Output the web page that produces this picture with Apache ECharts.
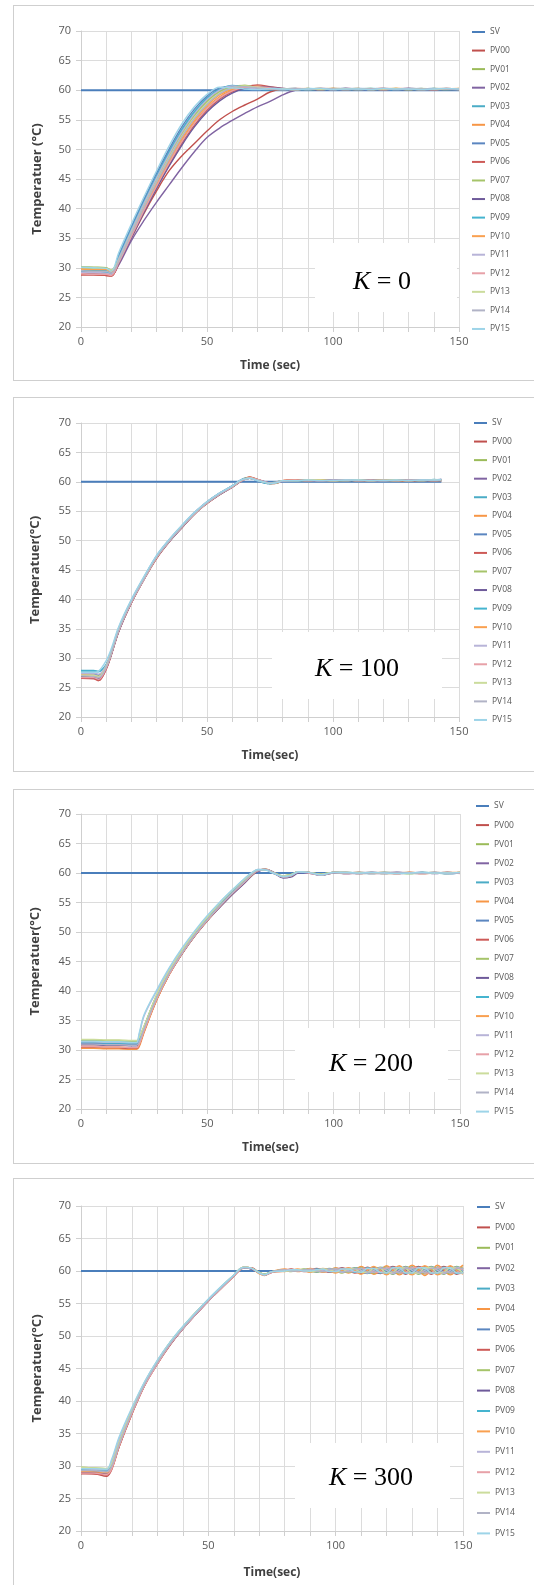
<!DOCTYPE html>
<html>
<head>
<meta charset="utf-8">
<script src="https://cdn.jsdelivr.net/npm/echarts@6/dist/echarts.min.js"></script>
<style>
  html, body { margin: 0; padding: 0; background: #fff; }
  body { position: relative; width: 534px; height: 1585px; overflow: hidden; }
  .panel { position: absolute; left: 13px; width: 540px; border: 1px solid #cfcfcf; box-sizing: border-box; }
  .chart { position: absolute; left: 0; top: 0; width: 528px; height: 100%; }
</style>
</head>
<body>
<div class="panel" style="top:5px;height:376px"><div id="k0" class="chart"></div></div>
<div class="panel" style="top:397px;height:375px"><div id="k100" class="chart"></div></div>
<div class="panel" style="top:789px;height:375px"><div id="k200" class="chart"></div></div>
<div class="panel" style="top:1178px;height:410px"><div id="k300" class="chart"></div></div>
<script>
// legend / series names and Excel-like colours
const pvNames = ['PV00', 'PV01', 'PV02', 'PV03', 'PV04', 'PV05', 'PV06', 'PV07',
  'PV08', 'PV09', 'PV10', 'PV11', 'PV12', 'PV13', 'PV14', 'PV15']
const pvColors = ['#c0504d', '#9bbb59', '#8064a2', '#4bacc6', '#f79646', '#5b86c0', '#cd5a57', '#a6c46a',
  '#6e5a9a', '#45b4cf', '#f9a050', '#b8b4d8', '#e7a1a8', '#cbdc9c', '#b1b3c6', '#9dd4e8']
const svColor = '#4a7ebb'
const svTemp = [60, 60]

// ---- K = 0 ----
const timeK0 = [0, 5, 10, 12, 15, 20, 25, 30, 35, 40, 45, 50, 55, 60, 65, 70, 75, 80, 85,
  90, 95, 100, 105, 110, 115, 120, 125, 130, 135, 140, 145, 150]
const svTimeK0 = [0, 150]
const pvK0 = [
  [28.8, 28.8, 28.7, 28.6, 30.7, 35.0, 39.2, 43.0, 46.4, 48.9, 51.0, 53.1, 55.0, 56.4, 57.5, 58.5, 59.7, 60.2, 60.3, 60.2, 60.1, 60.3, 60.2, 60.1, 60.2, 60.3, 60.2, 60.1, 60.2, 60.2, 60.1, 60.2],
  [30.2, 30.1, 30.0, 29.6, 31.5, 36.2, 40.8, 45.0, 49.0, 52.7, 55.8, 58.2, 59.8, 60.6, 60.8, 60.4, 60.2, 60.2, 60.1, 60.2, 60.3, 60.1, 60.2, 60.2, 60.3, 60.1, 60.2, 60.2, 60.1, 60.3, 60.2, 60.2],
  [29.0, 29.0, 28.9, 28.7, 30.5, 34.6, 38.0, 41.1, 44.0, 46.9, 49.6, 52.0, 53.6, 54.9, 56.1, 57.2, 58.1, 59.2, 60.0, 60.2, 60.2, 60.1, 60.3, 60.2, 60.1, 60.2, 60.2, 60.3, 60.1, 60.2, 60.2, 60.1],
  [29.6, 29.5, 29.5, 29.1, 31.9, 36.7, 41.3, 45.6, 49.7, 53.4, 56.4, 58.7, 60.2, 60.7, 60.4, 60.2, 60.1, 60.2, 60.3, 60.1, 60.2, 60.2, 60.3, 60.1, 60.2, 60.2, 60.1, 60.3, 60.2, 60.1, 60.2, 60.2],
  [28.9, 28.9, 28.8, 28.7, 30.9, 35.4, 39.9, 44.0, 47.9, 51.5, 54.6, 57.1, 58.9, 60.0, 60.6, 60.7, 60.4, 60.2, 60.2, 60.3, 60.1, 60.2, 60.2, 60.3, 60.1, 60.2, 60.3, 60.2, 60.1, 60.2, 60.3, 60.1],
  [29.4, 29.3, 29.3, 29.0, 32.2, 37.0, 41.6, 46.0, 50.1, 53.8, 56.8, 59.0, 60.4, 60.6, 60.3, 60.1, 60.2, 60.2, 60.1, 60.2, 60.2, 60.1, 60.2, 60.3, 60.2, 60.1, 60.2, 60.2, 60.3, 60.1, 60.2, 60.2],
  [28.8, 28.8, 28.7, 28.6, 30.8, 35.2, 39.6, 43.6, 47.4, 51.0, 54.1, 56.6, 58.5, 59.7, 60.5, 60.9, 60.6, 60.3, 60.2, 60.2, 60.3, 60.2, 60.1, 60.2, 60.2, 60.3, 60.1, 60.2, 60.2, 60.1, 60.3, 60.2],
  [30.0, 29.9, 29.9, 29.5, 31.4, 36.0, 40.6, 44.8, 48.8, 52.5, 55.6, 58.0, 59.7, 60.5, 60.8, 60.4, 60.2, 60.1, 60.2, 60.1, 60.2, 60.3, 60.2, 60.1, 60.2, 60.2, 60.3, 60.1, 60.2, 60.2, 60.1, 60.3],
  [29.3, 29.2, 29.2, 28.9, 30.8, 35.1, 39.4, 43.4, 47.2, 50.7, 53.8, 56.3, 58.2, 59.5, 60.3, 60.6, 60.5, 60.3, 60.2, 60.2, 60.1, 60.2, 60.3, 60.2, 60.2, 60.1, 60.2, 60.3, 60.2, 60.1, 60.2, 60.2],
  [29.3, 29.3, 29.2, 29.0, 31.8, 36.5, 41.1, 45.4, 49.4, 53.1, 56.2, 58.6, 60.1, 60.8, 60.5, 60.2, 60.1, 60.2, 60.1, 60.3, 60.2, 60.2, 60.1, 60.2, 60.3, 60.2, 60.1, 60.2, 60.2, 60.3, 60.1, 60.2],
  [29.8, 29.7, 29.7, 29.3, 31.1, 35.6, 40.1, 44.3, 48.2, 51.8, 54.9, 57.4, 59.2, 60.2, 60.6, 60.5, 60.3, 60.2, 60.1, 60.2, 60.2, 60.3, 60.1, 60.2, 60.2, 60.1, 60.3, 60.2, 60.2, 60.1, 60.2, 60.3],
  [29.2, 29.2, 29.1, 28.9, 31.6, 36.3, 40.9, 45.2, 49.2, 52.9, 56.0, 58.4, 60.0, 60.7, 60.5, 60.2, 60.2, 60.1, 60.2, 60.1, 60.3, 60.2, 60.2, 60.1, 60.2, 60.3, 60.2, 60.2, 60.1, 60.2, 60.3, 60.2],
  [29.0, 28.9, 28.9, 28.7, 30.9, 35.3, 39.7, 43.8, 47.7, 51.3, 54.4, 56.9, 58.7, 59.9, 60.5, 60.6, 60.4, 60.2, 60.1, 60.2, 60.2, 60.1, 60.3, 60.2, 60.2, 60.1, 60.2, 60.3, 60.2, 60.1, 60.2, 60.2],
  [30.1, 30.0, 29.9, 29.6, 31.3, 35.9, 40.4, 44.6, 48.6, 52.3, 55.4, 57.8, 59.5, 60.4, 60.7, 60.5, 60.2, 60.2, 60.1, 60.3, 60.1, 60.2, 60.2, 60.3, 60.1, 60.2, 60.2, 60.1, 60.3, 60.2, 60.2, 60.1],
  [29.5, 29.4, 29.4, 29.1, 31.2, 35.8, 40.3, 44.5, 48.4, 52.1, 55.2, 57.6, 59.4, 60.4, 60.6, 60.4, 60.2, 60.1, 60.2, 60.2, 60.3, 60.2, 60.1, 60.2, 60.2, 60.3, 60.1, 60.2, 60.2, 60.3, 60.2, 60.1],
  [30.1, 30.0, 29.9, 29.4, 32.6, 37.4, 42.0, 46.4, 50.6, 54.3, 57.2, 59.3, 60.5, 60.4, 60.2, 60.1, 60.3, 60.2, 60.1, 60.2, 60.3, 60.1, 60.2, 60.2, 60.1, 60.3, 60.2, 60.2, 60.1, 60.2, 60.3, 60.2]
]

// ---- K = 100 ----
const timeK100 = [0, 5, 7, 10, 12, 15, 20, 25, 30, 35, 40, 45, 50, 55, 60, 63, 65, 67, 70, 73, 75, 78, 80, 85,
  90, 95, 100, 105, 110, 115, 120, 125, 130, 135, 140, 143]
const svTimeK100 = [0, 143]
const pvK100 = [
  [26.6, 26.6, 26.2, 28.2, 30.6, 34.6, 39.4, 43.4, 47.0, 49.8, 52.2, 54.5, 56.3, 57.8, 59.1, 60.0, 60.5, 60.8, 60.3, 59.9, 59.7, 59.9, 60.2, 60.3, 60.2, 60.3, 60.2, 60.2, 60.3, 60.1, 60.2, 60.3, 60.1, 60.2, 60.3, 60.2],
  [26.8, 26.8, 26.5, 28.4, 30.8, 34.8, 39.6, 43.6, 47.2, 50.0, 52.4, 54.7, 56.5, 58.0, 59.2, 60.1, 60.5, 60.7, 60.3, 59.9, 59.8, 60.0, 60.2, 60.2, 60.3, 60.2, 60.3, 60.2, 60.2, 60.3, 60.2, 60.2, 60.3, 60.2, 60.3, 60.3],
  [26.7, 26.7, 26.4, 28.3, 30.7, 34.7, 39.5, 43.5, 47.1, 49.9, 52.3, 54.6, 56.4, 57.9, 59.1, 60.0, 60.4, 60.6, 60.4, 60.0, 59.7, 59.8, 60.1, 60.3, 60.2, 60.2, 60.3, 60.2, 60.3, 60.2, 60.3, 60.2, 60.2, 60.3, 60.2, 60.4],
  [27.9, 27.9, 27.8, 28.9, 31.0, 35.0, 39.8, 43.7, 47.3, 50.0, 52.4, 54.6, 56.5, 58.0, 59.3, 60.1, 60.5, 60.6, 60.2, 59.9, 59.8, 60.0, 60.2, 60.2, 60.2, 60.3, 60.2, 60.3, 60.2, 60.2, 60.3, 60.2, 60.3, 60.2, 60.3, 60.2],
  [27.1, 27.0, 26.8, 28.5, 30.8, 34.9, 39.6, 43.5, 47.2, 49.9, 52.3, 54.7, 56.5, 58.0, 59.2, 60.1, 60.6, 60.8, 60.4, 59.9, 59.7, 59.8, 60.2, 60.3, 60.3, 60.2, 60.2, 60.3, 60.2, 60.3, 60.2, 60.2, 60.3, 60.2, 60.2, 60.3],
  [27.3, 27.3, 27.1, 28.6, 31.0, 35.0, 39.7, 43.6, 47.3, 50.1, 52.5, 54.7, 56.6, 58.1, 59.3, 60.2, 60.5, 60.6, 60.2, 59.8, 59.7, 59.9, 60.1, 60.2, 60.2, 60.2, 60.3, 60.2, 60.3, 60.2, 60.2, 60.3, 60.2, 60.3, 60.2, 60.3],
  [26.6, 26.5, 26.2, 28.1, 30.5, 34.6, 39.4, 43.4, 47.0, 49.8, 52.2, 54.5, 56.3, 57.8, 59.1, 60.0, 60.5, 60.8, 60.4, 60.0, 59.8, 59.9, 60.2, 60.3, 60.3, 60.2, 60.2, 60.3, 60.2, 60.2, 60.3, 60.2, 60.1, 60.3, 60.2, 60.2],
  [27.0, 27.0, 26.8, 28.5, 30.9, 34.9, 39.7, 43.6, 47.2, 50.0, 52.4, 54.6, 56.5, 57.9, 59.2, 60.1, 60.5, 60.6, 60.3, 59.9, 59.7, 59.9, 60.2, 60.2, 60.2, 60.3, 60.2, 60.2, 60.3, 60.2, 60.3, 60.2, 60.2, 60.3, 60.3, 60.2],
  [26.8, 26.7, 26.5, 28.3, 30.6, 34.6, 39.5, 43.4, 47.1, 49.8, 52.2, 54.5, 56.4, 57.8, 59.1, 60.0, 60.4, 60.6, 60.3, 60.0, 59.8, 59.9, 60.1, 60.3, 60.2, 60.2, 60.3, 60.2, 60.2, 60.3, 60.2, 60.3, 60.2, 60.2, 60.3, 60.4],
  [27.8, 27.8, 27.7, 28.9, 31.1, 35.1, 39.8, 43.7, 47.4, 50.1, 52.5, 54.7, 56.6, 58.1, 59.3, 60.2, 60.6, 60.6, 60.2, 59.8, 59.7, 59.9, 60.2, 60.2, 60.3, 60.2, 60.2, 60.3, 60.2, 60.3, 60.2, 60.2, 60.3, 60.2, 60.4, 60.3],
  [27.2, 27.1, 26.9, 28.6, 30.9, 34.9, 39.6, 43.5, 47.2, 49.9, 52.3, 54.6, 56.4, 57.9, 59.2, 60.1, 60.5, 60.7, 60.3, 59.9, 59.8, 59.9, 60.2, 60.3, 60.2, 60.3, 60.2, 60.3, 60.2, 60.2, 60.3, 60.2, 60.2, 60.3, 60.2, 60.3],
  [27.4, 27.4, 27.3, 28.8, 31.2, 35.2, 39.9, 43.8, 47.4, 50.2, 52.5, 54.8, 56.6, 58.1, 59.3, 60.2, 60.5, 60.6, 60.2, 59.9, 59.8, 60.0, 60.2, 60.2, 60.3, 60.2, 60.3, 60.2, 60.3, 60.2, 60.2, 60.3, 60.2, 60.3, 60.3, 60.4],
  [26.7, 26.7, 26.4, 28.3, 30.7, 34.7, 39.5, 43.4, 47.1, 49.9, 52.3, 54.5, 56.4, 57.9, 59.1, 60.0, 60.4, 60.7, 60.4, 60.0, 59.8, 59.9, 60.2, 60.3, 60.2, 60.2, 60.2, 60.3, 60.2, 60.3, 60.2, 60.2, 60.3, 60.2, 60.3, 60.2],
  [27.1, 27.1, 26.9, 28.6, 30.9, 34.9, 39.7, 43.6, 47.2, 50.0, 52.4, 54.6, 56.5, 58.0, 59.2, 60.1, 60.5, 60.6, 60.3, 59.9, 59.8, 59.9, 60.2, 60.2, 60.3, 60.3, 60.2, 60.2, 60.3, 60.2, 60.3, 60.3, 60.2, 60.2, 60.3, 60.3],
  [27.0, 26.9, 26.7, 28.5, 30.8, 34.8, 39.6, 43.5, 47.2, 49.9, 52.3, 54.6, 56.4, 57.9, 59.2, 60.1, 60.5, 60.6, 60.3, 60.0, 59.8, 59.9, 60.1, 60.2, 60.2, 60.2, 60.3, 60.3, 60.2, 60.2, 60.3, 60.2, 60.3, 60.3, 60.2, 60.3],
  [27.6, 27.6, 27.8, 29.6, 31.6, 35.4, 40.0, 43.9, 47.5, 50.2, 52.6, 54.8, 56.6, 58.1, 59.3, 60.2, 60.5, 60.6, 60.2, 59.9, 59.7, 59.9, 60.2, 60.2, 60.3, 60.2, 60.2, 60.3, 60.3, 60.2, 60.2, 60.3, 60.2, 60.3, 60.3, 60.4]
]

// ---- K = 200 ----
const timeK200 = [0, 5, 10, 15, 20, 22, 23, 25, 30, 35, 40, 45, 50, 55, 60, 65, 68, 70, 73, 76, 80, 83, 86, 90, 95, 100,
  105, 110, 115, 120, 125, 130, 135, 140, 145, 150]
const svTimeK200 = [0, 150]
const pvK200 = [
  [30.4, 30.4, 30.3, 30.3, 30.2, 30.2, 30.8, 33.2, 38.6, 42.9, 46.4, 49.4, 52.0, 54.4, 56.6, 58.6, 59.8, 60.4, 60.6, 60.0, 59.3, 59.5, 60.2, 60.1, 59.7, 60.1, 60.0, 60.1, 59.9, 60.0, 60.1, 60.0, 59.9, 60.0, 60.1, 60.0],
  [31.6, 31.6, 31.5, 31.5, 31.4, 31.4, 32.0, 34.0, 39.3, 43.4, 46.8, 49.8, 52.4, 54.8, 57.0, 59.0, 60.1, 60.5, 60.5, 60.1, 59.5, 59.7, 60.2, 60.1, 59.8, 60.1, 60.1, 60.0, 60.1, 59.9, 60.0, 60.1, 60.0, 60.0, 59.9, 60.1],
  [31.0, 31.0, 30.9, 30.9, 30.8, 30.8, 31.3, 33.5, 38.8, 43.0, 46.4, 49.4, 52.0, 54.3, 56.5, 58.5, 59.7, 60.3, 60.6, 60.1, 59.2, 59.4, 60.1, 60.0, 59.6, 60.0, 59.9, 60.1, 60.0, 60.1, 59.9, 60.0, 60.1, 60.0, 60.0, 60.1],
  [31.2, 31.2, 31.1, 31.1, 31.0, 31.0, 31.5, 33.8, 39.1, 43.3, 46.7, 49.7, 52.3, 54.7, 56.9, 58.9, 60.0, 60.5, 60.6, 60.1, 59.4, 59.6, 60.2, 60.1, 59.7, 60.1, 60.0, 60.0, 60.1, 60.0, 60.0, 59.9, 60.1, 60.0, 60.1, 60.0],
  [30.3, 30.3, 30.2, 30.2, 30.1, 30.1, 30.5, 33.0, 38.5, 42.8, 46.3, 49.3, 51.9, 54.3, 56.5, 58.5, 59.8, 60.4, 60.7, 60.1, 59.4, 59.5, 60.2, 60.1, 59.7, 60.0, 60.1, 59.9, 60.0, 60.1, 60.0, 60.1, 59.9, 60.0, 60.0, 60.1],
  [31.1, 31.1, 31.0, 31.0, 30.9, 30.9, 31.4, 33.7, 39.0, 43.2, 46.6, 49.6, 52.2, 54.6, 56.8, 58.8, 60.0, 60.5, 60.6, 60.0, 59.4, 59.6, 60.2, 60.1, 59.7, 60.1, 60.0, 60.1, 60.0, 59.9, 60.1, 60.0, 60.0, 60.1, 59.9, 60.0],
  [30.5, 30.5, 30.4, 30.4, 30.3, 30.3, 30.8, 33.2, 38.6, 42.9, 46.4, 49.4, 52.0, 54.4, 56.6, 58.6, 59.8, 60.4, 60.6, 60.1, 59.3, 59.5, 60.1, 60.1, 59.7, 60.1, 59.9, 60.0, 60.1, 60.0, 59.9, 60.1, 60.0, 60.1, 60.0, 60.0],
  [31.7, 31.7, 31.6, 31.6, 31.5, 31.5, 32.0, 34.0, 39.3, 43.4, 46.8, 49.8, 52.4, 54.8, 57.0, 59.0, 60.1, 60.5, 60.6, 60.0, 59.5, 59.7, 60.2, 60.1, 59.8, 60.1, 60.1, 60.0, 60.0, 60.1, 60.0, 59.9, 60.0, 60.1, 60.0, 60.1],
  [30.9, 30.9, 30.8, 30.8, 30.7, 30.7, 31.2, 33.4, 38.7, 42.9, 46.3, 49.3, 51.9, 54.2, 56.4, 58.4, 59.7, 60.3, 60.6, 60.2, 59.2, 59.3, 60.0, 60.1, 59.6, 60.0, 60.0, 59.9, 60.1, 60.0, 60.1, 60.0, 60.1, 59.9, 60.1, 60.0],
  [31.3, 31.3, 31.2, 31.2, 31.1, 31.1, 31.6, 33.9, 39.2, 43.3, 46.7, 49.7, 52.3, 54.7, 56.9, 58.9, 60.0, 60.5, 60.6, 60.0, 59.4, 59.6, 60.2, 60.1, 59.7, 60.1, 60.1, 60.0, 59.9, 60.1, 60.0, 60.0, 60.1, 60.0, 59.9, 60.0],
  [30.6, 30.6, 30.5, 30.5, 30.4, 30.4, 30.9, 33.2, 38.6, 42.9, 46.4, 49.4, 52.0, 54.4, 56.6, 58.6, 59.8, 60.4, 60.6, 60.1, 59.4, 59.5, 60.2, 60.1, 59.7, 60.1, 60.0, 60.1, 60.0, 60.0, 59.9, 60.1, 60.0, 60.0, 60.1, 60.1],
  [31.4, 31.4, 31.3, 31.3, 31.2, 31.2, 32.5, 35.8, 40.0, 43.8, 47.1, 50.0, 52.6, 55.0, 57.1, 59.1, 60.1, 60.6, 60.6, 60.0, 59.4, 59.6, 60.2, 60.1, 59.7, 60.1, 59.9, 60.0, 60.1, 60.0, 60.1, 60.0, 59.9, 60.1, 60.0, 60.0],
  [30.6, 30.6, 30.5, 30.5, 30.4, 30.4, 30.9, 33.3, 38.7, 42.9, 46.4, 49.4, 52.0, 54.4, 56.6, 58.6, 59.9, 60.4, 60.6, 60.1, 59.3, 59.5, 60.2, 60.0, 59.7, 60.1, 60.1, 60.0, 60.0, 59.9, 60.0, 60.1, 60.0, 60.0, 60.1, 59.9],
  [31.8, 31.8, 31.7, 31.7, 31.6, 31.6, 32.1, 34.1, 39.4, 43.5, 46.9, 49.9, 52.5, 54.9, 57.1, 59.0, 60.1, 60.5, 60.5, 60.1, 59.5, 59.7, 60.2, 60.1, 59.8, 60.1, 60.0, 60.1, 60.0, 60.1, 60.0, 59.9, 60.1, 60.0, 60.0, 60.1],
  [31.0, 31.0, 30.9, 30.9, 30.8, 30.8, 31.3, 33.6, 38.9, 43.1, 46.5, 49.5, 52.1, 54.5, 56.7, 58.7, 59.9, 60.4, 60.6, 60.1, 59.3, 59.5, 60.1, 60.1, 59.6, 60.0, 60.0, 59.9, 60.0, 60.1, 60.1, 60.0, 60.0, 60.1, 59.9, 60.0],
  [31.5, 31.5, 31.4, 31.4, 31.3, 31.3, 32.8, 36.0, 40.2, 44.0, 47.3, 50.2, 52.8, 55.1, 57.2, 59.2, 60.2, 60.6, 60.5, 60.0, 59.4, 59.6, 60.2, 60.1, 59.7, 60.1, 60.1, 60.0, 60.1, 60.0, 59.9, 60.0, 60.1, 60.0, 60.0, 60.1]
]

// ---- K = 300 ----
const timeK300 = [0, 5, 10, 12, 15, 20, 25, 30, 35, 40, 45, 50, 55, 60, 62, 64, 67, 70, 72, 75,
  80, 82.5, 85, 87.5, 90, 92.5, 95, 97.5, 100, 102.5, 105, 107.5, 110, 112.5, 115, 117.5,
  120, 122.5, 125, 127.5, 130, 132.5, 135, 137.5, 140, 142.5, 145, 147.5, 150]
const svTimeK300 = [0, 150]
const pvK300 = [
  [28.8, 28.8, 28.4, 29.4, 33.0, 38.0, 42.4, 45.7, 48.6, 51.1, 53.3, 55.4, 57.3, 59.2, 60.0, 60.5, 60.4, 59.7, 59.4, 59.9,
    60.1, 60.3, 60.1, 59.9, 60.1, 60.4, 60.1, 59.8, 60.1, 60.5, 60.1, 59.7, 60.1, 60.6, 60.1, 59.6, 60.1, 60.7, 60.1, 59.5, 60.1, 60.7, 60.1, 59.5, 60.1, 60.7, 60.1, 59.5, 60.1],
  [29.7, 29.6, 29.5, 30.2, 33.6, 38.6, 42.8, 46.1, 49.0, 51.4, 53.6, 55.6, 57.5, 59.4, 60.2, 60.6, 60.4, 59.8, 59.5, 59.9,
    60.1, 59.9, 60.1, 60.3, 60.1, 59.8, 60.1, 60.4, 60.1, 59.7, 60.1, 60.5, 60.1, 59.6, 60.1, 60.6, 60.1, 59.5, 60.1, 60.7, 60.1, 59.5, 60.1, 60.7, 60.1, 59.5, 60.1, 60.7, 60.1],
  [29.2, 29.1, 29.0, 29.8, 33.2, 38.2, 42.5, 45.8, 48.7, 51.2, 53.4, 55.5, 57.4, 59.3, 60.1, 60.5, 60.3, 59.7, 59.4, 59.8,
    60.2, 60.2, 60.0, 60.0, 60.3, 60.3, 59.9, 59.9, 60.4, 60.4, 59.8, 59.8, 60.5, 60.5, 59.7, 59.7, 60.5, 60.6, 59.7, 59.6, 60.6, 60.5, 59.6, 59.7, 60.6, 60.5, 59.6, 59.7, 60.5],
  [29.4, 29.3, 29.2, 30.0, 33.4, 38.4, 42.7, 46.0, 48.9, 51.3, 53.5, 55.6, 57.5, 59.3, 60.1, 60.5, 60.4, 59.7, 59.4, 59.9,
    60.2, 60.0, 60.0, 60.2, 60.3, 59.9, 59.9, 60.3, 60.4, 59.8, 59.8, 60.4, 60.5, 59.7, 59.7, 60.5, 60.6, 59.6, 59.7, 60.5, 60.6, 59.6, 59.6, 60.6, 60.5, 59.7, 59.6, 60.6, 60.5],
  [29.0, 29.0, 28.8, 29.6, 33.1, 38.1, 42.5, 45.8, 48.7, 51.2, 53.4, 55.5, 57.4, 59.3, 60.1, 60.6, 60.4, 59.6, 59.3, 59.9,
    60.3, 60.1, 59.9, 60.1, 60.4, 60.1, 59.8, 60.1, 60.5, 60.1, 59.7, 60.1, 60.7, 60.1, 59.5, 60.1, 60.8, 60.1, 59.4, 60.1, 60.9, 60.2, 59.3, 60.0, 60.9, 60.1, 59.4, 60.1, 60.9],
  [29.3, 29.2, 29.1, 29.9, 33.3, 38.3, 42.6, 45.9, 48.8, 51.2, 53.4, 55.5, 57.4, 59.3, 60.1, 60.5, 60.4, 59.7, 59.4, 59.9,
    60.0, 60.0, 60.2, 60.2, 59.9, 59.9, 60.3, 60.3, 59.8, 59.8, 60.4, 60.4, 59.7, 59.7, 60.5, 60.5, 59.7, 59.6, 60.5, 60.6, 59.6, 59.7, 60.6, 60.5, 59.6, 59.6, 60.6, 60.5, 59.7],
  [28.9, 28.8, 28.6, 29.5, 33.0, 38.0, 42.4, 45.7, 48.7, 51.1, 53.3, 55.4, 57.3, 59.2, 60.0, 60.5, 60.5, 59.7, 59.4, 59.8,
    60.0, 60.2, 60.2, 60.0, 59.9, 60.3, 60.3, 59.9, 59.8, 60.4, 60.4, 59.8, 59.7, 60.5, 60.5, 59.7, 59.6, 60.6, 60.5, 59.7, 59.6, 60.6, 60.6, 59.6, 59.7, 60.5, 60.6, 59.6, 59.7],
  [29.8, 29.7, 29.6, 30.3, 33.6, 38.5, 42.8, 46.1, 49.0, 51.4, 53.5, 55.6, 57.5, 59.4, 60.2, 60.6, 60.4, 59.8, 59.5, 59.9,
    60.2, 60.1, 60.0, 60.1, 60.3, 60.1, 59.9, 60.1, 60.4, 60.1, 59.8, 60.1, 60.5, 60.1, 59.7, 60.1, 60.6, 60.1, 59.6, 60.1, 60.6, 60.1, 59.6, 60.1, 60.6, 60.1, 59.6, 60.1, 60.6],
  [29.1, 29.0, 28.9, 29.7, 33.2, 38.2, 42.5, 45.8, 48.7, 51.1, 53.3, 55.4, 57.4, 59.3, 60.1, 60.5, 60.3, 59.7, 59.4, 59.9,
    60.0, 60.1, 60.2, 60.1, 59.9, 60.1, 60.3, 60.1, 59.8, 60.1, 60.4, 60.1, 59.7, 60.1, 60.5, 60.1, 59.6, 60.1, 60.6, 60.1, 59.6, 60.1, 60.6, 60.1, 59.6, 60.1, 60.6, 60.1, 59.6],
  [29.5, 29.4, 29.3, 30.1, 33.4, 38.4, 42.7, 46.0, 48.9, 51.3, 53.5, 55.6, 57.5, 59.4, 60.1, 60.5, 60.4, 59.7, 59.5, 59.9,
    60.1, 60.2, 60.1, 60.0, 60.1, 60.3, 60.1, 59.9, 60.1, 60.4, 60.1, 59.8, 60.1, 60.5, 60.1, 59.7, 60.1, 60.6, 60.1, 59.6, 60.1, 60.6, 60.1, 59.6, 60.1, 60.6, 60.1, 59.6, 60.1],
  [29.2, 29.1, 29.0, 29.7, 33.2, 38.2, 42.5, 45.8, 48.8, 51.2, 53.4, 55.5, 57.4, 59.3, 60.1, 60.6, 60.4, 59.6, 59.4, 59.9,
    59.9, 60.1, 60.3, 60.1, 59.8, 60.1, 60.4, 60.1, 59.7, 60.1, 60.5, 60.1, 59.5, 60.1, 60.7, 60.1, 59.4, 60.1, 60.8, 60.0, 59.4, 60.1, 60.8, 60.2, 59.4, 60.0, 60.8, 60.1, 59.5],
  [29.6, 29.5, 29.4, 30.6, 34.2, 38.8, 42.9, 46.2, 49.0, 51.4, 53.6, 55.6, 57.5, 59.4, 60.2, 60.6, 60.4, 59.7, 59.4, 59.9,
    60.1, 60.0, 60.1, 60.2, 60.1, 59.9, 60.1, 60.3, 60.1, 59.8, 60.1, 60.4, 60.1, 59.7, 60.1, 60.5, 60.1, 59.6, 60.1, 60.6, 60.1, 59.6, 60.1, 60.6, 60.1, 59.6, 60.1, 60.6, 60.1],
  [28.9, 28.9, 28.7, 29.5, 33.1, 38.1, 42.4, 45.7, 48.7, 51.1, 53.3, 55.4, 57.3, 59.2, 60.0, 60.5, 60.4, 59.7, 59.4, 59.8,
    60.2, 60.2, 60.0, 60.0, 60.3, 60.2, 59.9, 60.0, 60.3, 60.3, 59.9, 59.9, 60.4, 60.4, 59.8, 59.8, 60.5, 60.4, 59.7, 59.8, 60.5, 60.5, 59.7, 59.7, 60.5, 60.4, 59.7, 59.8, 60.5],
  [29.8, 29.7, 29.6, 30.3, 33.6, 38.6, 42.8, 46.1, 49.0, 51.4, 53.6, 55.6, 57.5, 59.4, 60.2, 60.6, 60.4, 59.8, 59.5, 59.9,
    60.0, 60.0, 60.2, 60.2, 59.9, 60.0, 60.3, 60.2, 59.9, 59.9, 60.3, 60.3, 59.8, 59.8, 60.4, 60.4, 59.7, 59.8, 60.5, 60.4, 59.7, 59.7, 60.5, 60.5, 59.7, 59.8, 60.5, 60.4, 59.7],
  [29.3, 29.3, 29.1, 29.9, 33.3, 38.3, 42.6, 45.9, 48.8, 51.2, 53.4, 55.5, 57.4, 59.3, 60.1, 60.5, 60.4, 59.7, 59.4, 59.9,
    60.2, 60.0, 60.0, 60.2, 60.2, 60.0, 59.9, 60.2, 60.3, 59.9, 59.9, 60.3, 60.4, 59.8, 59.8, 60.4, 60.4, 59.8, 59.8, 60.4, 60.4, 59.8, 59.8, 60.4, 60.4, 59.8, 59.8, 60.4, 60.4],
  [29.6, 29.6, 29.5, 31.0, 34.5, 39.0, 43.0, 46.3, 49.1, 51.5, 53.6, 55.7, 57.6, 59.4, 60.2, 60.6, 60.4, 59.7, 59.4, 59.9,
    60.0, 60.2, 60.2, 60.0, 60.0, 60.2, 60.3, 59.9, 59.9, 60.3, 60.3, 59.9, 59.8, 60.4, 60.4, 59.8, 59.7, 60.5, 60.5, 59.7, 59.7, 60.5, 60.5, 59.7, 59.7, 60.5, 60.5, 59.7, 59.7]
]

const font = '"Open Sans", sans-serif'

function drawPanel(id, p) {
  const chart = echarts.init(document.getElementById(id))
  const series = [{
    name: 'SV',
    type: 'line',
    symbol: 'none',
    data: p.svTime.map((t, i) => [t, svTemp[i]]),
    lineStyle: { width: 2, color: svColor },
    itemStyle: { color: svColor },
  }]
  p.pv.forEach((row, k) => {
    series.push({
      name: pvNames[k],
      type: 'line',
      symbol: 'none',
      smooth: 0.35,
      data: p.time.map((t, i) => [t, row[i]]),
      lineStyle: { width: 1.4, color: pvColors[k] },
      itemStyle: { color: pvColors[k] },
    })
  })

  chart.setOption({
    animation: false,
    textStyle: { fontFamily: font },
    grid: {
      left: p.grid[0], top: p.grid[1], width: p.grid[2], height: p.grid[3],
      outerBoundsMode: 'none',
    },
    xAxis: {
      type: 'value', min: 0, max: 150, interval: 10,
      name: p.xName, nameLocation: 'middle', nameGap: p.xGap,
      nameTextStyle: { fontSize: 12, fontWeight: 'bold', color: '#404040', fontFamily: font },
      axisLine: { show: true, lineStyle: { color: '#cfcfcf' } },
      axisTick: { show: true, length: 5, lineStyle: { color: '#cfcfcf' } },
      axisLabel: {
        fontSize: 11, color: '#595959', margin: 9, fontFamily: font,
        formatter: v => (v % 50 === 0 ? String(v) : ''),
      },
      splitLine: { show: true, lineStyle: { color: '#dcdcdc', width: 1 } },
    },
    yAxis: {
      type: 'value', min: 20, max: 70, interval: 5,
      name: p.yName, nameLocation: 'middle', nameGap: p.yGap,
      nameTextStyle: { fontSize: 13, fontWeight: 'bold', color: '#404040', fontFamily: font },
      axisLine: { show: true, lineStyle: { color: '#cfcfcf' } },
      axisTick: { show: true, length: 5, lineStyle: { color: '#cfcfcf' } },
      axisLabel: { fontSize: 11, color: '#595959', margin: 10, fontFamily: font },
      splitLine: { show: true, lineStyle: { color: '#dcdcdc', width: 1 } },
    },
    legend: {
      orient: 'vertical',
      left: p.legend[0], top: p.legend[1], itemGap: p.legend[2],
      itemWidth: 13, itemHeight: 10, padding: 0,
      itemStyle: { opacity: 0 },
      textStyle: { fontSize: 8.5, color: '#595959', lineHeight: 10, fontFamily: font },
      data: ['SV'].concat(pvNames),
    },
    graphic: [
      {
        type: 'rect', z: 100,
        left: p.box[0], top: p.box[1],
        shape: { width: p.box[2], height: p.box[3] },
        style: { fill: '#ffffff' },
      },
      {
        type: 'text', z: 101,
        x: p.label[0], y: p.label[1],
        style: {
          text: '{k|K}{n| = ' + p.k + '}',
          align: 'center', verticalAlign: 'middle',
          rich: {
            k: { fontFamily: '"Liberation Serif", serif', fontStyle: 'italic', fontSize: 26, fill: '#000' },
            n: { fontFamily: '"Liberation Serif", serif', fontSize: 26, fill: '#000' },
          },
        },
      },
    ],
    series,
  })
}

drawPanel('k0', {
  time: timeK0, pv: pvK0, svTime: svTimeK0, k: '0',
  xName: 'Time (sec)', yName: 'Temperatuer (°C)', xGap: 33, yGap: 37,
  grid: [67, 25, 378, 296], legend: [457, 21, 8.56],
  box: [301, 237, 142, 69], label: [368, 276],
})
drawPanel('k100', {
  time: timeK100, pv: pvK100, svTime: svTimeK100, k: '100',
  xName: 'Time(sec)', yName: 'Temperatuer(°C)', xGap: 33, yGap: 39,
  grid: [67, 25, 378, 294], legend: [459, 20, 8.56],
  box: [258, 234, 170, 67], label: [343, 271],
})
drawPanel('k200', {
  time: timeK200, pv: pvK200, svTime: svTimeK200, k: '200',
  xName: 'Time(sec)', yName: 'Temperatuer(°C)', xGap: 33, yGap: 39,
  grid: [67, 24, 379, 295], legend: [461, 11, 9.1],
  box: [281, 238, 153, 64], label: [357, 274],
})
drawPanel('k300', {
  time: timeK300, pv: pvK300, svTime: svTimeK300, k: '300',
  xName: 'Time(sec)', yName: 'Temperatuer(°C)', xGap: 36, yGap: 37,
  grid: [67, 27, 382, 325], legend: [462, 23, 10.4],
  box: [281, 264, 155, 65], label: [357, 299],
})
</script>
</body>
</html>
